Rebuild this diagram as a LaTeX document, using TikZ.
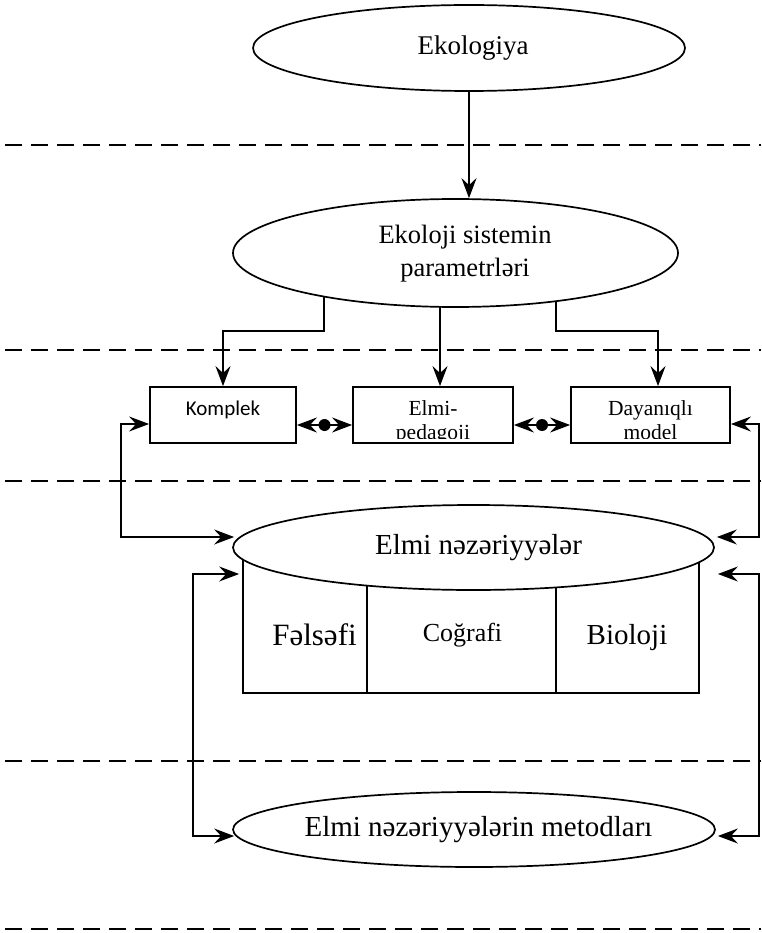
\documentclass[tikz,border=0pt]{standalone}
\usepackage{fontspec}
\setmainfont{Liberation Serif}
\newfontfamily\calfont{Carlito}
\usetikzlibrary{shapes.geometric,arrows.meta}
\pgfdeclarelayer{bg}
\pgfsetlayers{bg,main}
\begin{document}
\begin{tikzpicture}[x=1pt,y=1pt,
  oval/.style={ellipse,draw,line width=1.7pt,fill=white,inner sep=0pt},
  boxnode/.style={rectangle,draw,line width=1.8pt,inner sep=0pt,minimum height=56pt},
  cellbox/.style={rectangle,draw,line width=1.7pt,inner sep=0pt,minimum height=146pt},
  conn/.style={line width=1.9pt,-{Stealth[length=20pt,width=15pt,inset=7pt]}},
  twoway/.style={line width=1.9pt,{Stealth[length=20pt,width=15pt,inset=7pt]}-{Stealth[length=20pt,width=15pt,inset=7pt]}},
  middot/.style={circle,fill,inner sep=0pt,minimum size=12pt},
  divline/.style={line width=1.9pt,dash pattern=on 17pt off 9pt},
  txt/.style={inner sep=0pt,anchor=base}
]
\useasboundingbox (0,0) rectangle (761,-933);

% dashed separators
\draw[divline] (5,-145) -- (761,-145);
\draw[divline] (5,-350) -- (761,-350);
\draw[divline] (5,-481) -- (761,-481);
\draw[divline] (5,-761) -- (761,-761);
\draw[divline] (5,-929) -- (761,-929);

% ellipses top
\node[oval,minimum width=432pt,minimum height=86pt] (e1) at (469,-48)
  {\makebox[0pt]{\hspace{8pt}\fontsize{27}{32}\selectfont Ekologiya}};
\node[oval,minimum width=445pt,minimum height=108pt] (e2) at (455.5,-253)
  {\makebox[0pt]{\hspace{19pt}\fontsize{26.5}{33}\selectfont\begin{tabular}{@{}c@{}}Ekoloji sistemin\\parametrləri\end{tabular}}};

\draw[conn] (e1.south) -- (e1.south |- e2.north);

% boxes
\node[boxnode,minimum width=146pt] (b1) at (223,-415) {};
\node[boxnode,minimum width=160pt] (b2) at (433,-415) {};
\node[boxnode,minimum width=159pt] (b3) at (650.5,-415) {};

\node[txt] (t1) at (223,-415) {\calfont\fontsize{21}{24}\selectfont Komplek};
\begin{scope}
  \clip (b2.north west) rectangle ([yshift=5pt]b2.south east);
  \node[txt] (t2a) at (433,-415) {\fontsize{21.5}{24}\selectfont Elmi-};
  \node[txt] (t2b) at (433,-439) {\fontsize{21.5}{24}\selectfont pedagoji};
\end{scope}
\begin{scope}
  \clip (b3.north west) rectangle ([yshift=5pt]b3.south east);
  \node[txt] (t3a) at (650.5,-415) {\fontsize{21.5}{24}\selectfont Dayanıqlı};
  \node[txt] (t3b) at (650.5,-439) {\fontsize{21.5}{24}\selectfont model};
\end{scope}

\begin{pgfonlayer}{bg}
  \draw[conn] ([xshift=-131.5pt]e2.center) |- ([yshift=55pt]b1.north) -- (b1.north);
  \draw[conn] ([xshift=7pt,yshift=162pt]b2.north) -- ([xshift=7pt]b2.north);
  \draw[conn] ([xshift=100.5pt]e2.center) |- ([xshift=7.5pt,yshift=55pt]b3.north) -- ([xshift=7.5pt]b3.north);
\end{pgfonlayer}

\draw[twoway] ([yshift=-10pt]b1.east) -- node[middot] (d1) {} ([yshift=-10pt]b2.west);
\draw[twoway] ([yshift=-10pt]b2.east) -- node[middot] (d2) {} ([yshift=-10pt]b3.west);

% cylinder cells
\node[cellbox,minimum width=124pt] (c1) at (305,-620) {};
\node[cellbox,minimum width=189pt] (c2) at (461.5,-620) {};
\node[cellbox,minimum width=143pt] (c3) at (627.5,-620) {};

\node[oval,minimum width=481pt,minimum height=85pt] (e3) at (473.5,-547.5)
  {\makebox[0pt]{\hspace{10pt}\fontsize{29}{34}\selectfont Elmi nəzəriyyələr}};

\node[txt] (f1) at (314.5,-645.5) {\fontsize{31}{36}\selectfont Fəlsəfi};
\node[txt] (f2) at (462.5,-641) {\fontsize{26}{30}\selectfont Coğrafi};
\node[txt] (f3) at (627,-644) {\fontsize{29}{34}\selectfont Bioloji};

% bottom ellipse
\node[oval,minimum width=482pt,minimum height=75pt] (e4) at (474,-829.5)
  {\makebox[0pt]{\hspace{9pt}\fontsize{29}{34}\selectfont Elmi nəzəriyyələrin metodları}};

% feedback connectors
\draw[twoway] ([yshift=-9pt]b1.west) -- ++(-28,0) |- ([xshift=2pt,yshift=10.5pt]e3.west);
\draw[twoway] ([yshift=-9pt]b3.east) -- ++(28,0) |- ([xshift=2pt,yshift=10.5pt]e3.east);
\draw[twoway] ([xshift=-3pt,yshift=46pt]c1.west) -- ++(-46,0) |- ([xshift=2pt,yshift=-6.5pt]e4.west);
\draw[twoway] ([xshift=18pt,yshift=46pt]c3.east) -- ++(41,0) |- ([xshift=2pt,yshift=-6.5pt]e4.east);
\end{tikzpicture}
\end{document}
